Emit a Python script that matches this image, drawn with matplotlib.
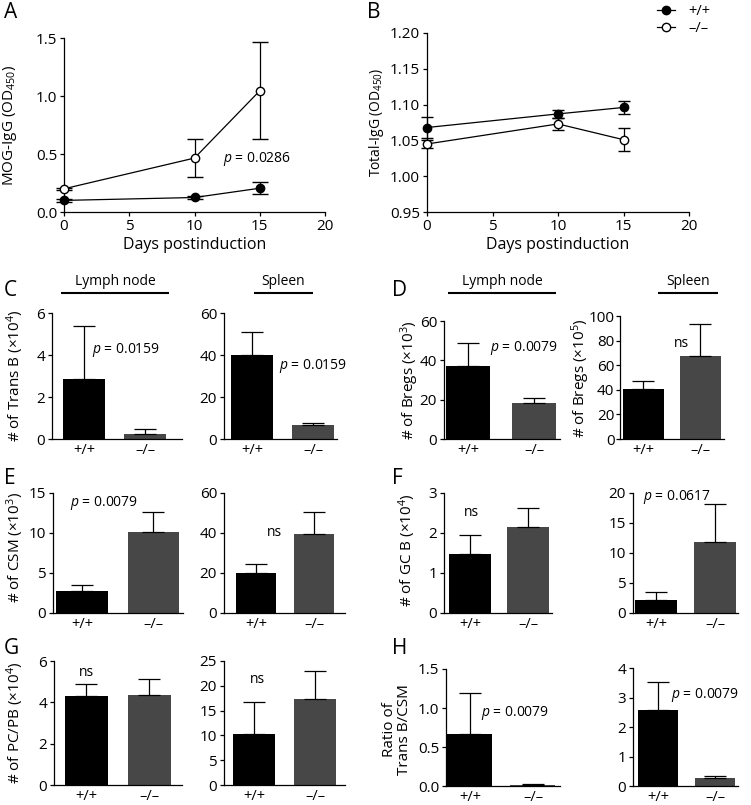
import matplotlib

matplotlib.use("Agg")
import matplotlib.pyplot as plt
from matplotlib.lines import Line2D

plt.rcParams["font.family"] = ["Open Sans", "DejaVu Sans"]
plt.rcParams["mathtext.fontset"] = "custom"
plt.rcParams["mathtext.rm"] = "Open Sans"
plt.rcParams["mathtext.it"] = "Open Sans:italic"
plt.rcParams["mathtext.bf"] = "Open Sans:bold"
plt.rcParams["axes.linewidth"] = 0.9

# ---- data ----
days = [0, 10, 15]
mog_wt = [0.10, 0.125, 0.205]
mog_wt_err = [0.01, 0.01, 0.05]
mog_ko = [0.20, 0.465, 1.045]
mog_ko_err = [0.01, 0.165, 0.42]
tot_wt = [1.068, 1.087, 1.096]
tot_wt_err = [0.014, 0.006, 0.009]
tot_ko = [1.045, 1.073, 1.051]
tot_ko_err = [0.006, 0.008, 0.016]

genotypes = ["+/+", "\u2013/\u2013"]
trans_ln, trans_ln_err = [2.87, 0.25], [2.5, 0.23]
trans_sp, trans_sp_err = [40.2, 6.5], [10.6, 1.1]
bregs_ln, bregs_ln_err = [37.1, 18.2], [11.5, 2.9]
bregs_sp, bregs_sp_err = [40.5, 67.3], [6.5, 26.5]
csm_ln, csm_ln_err = [2.7, 10.1], [0.8, 2.5]
csm_sp, csm_sp_err = [20.2, 39.7], [4.3, 10.8]
gcb_ln, gcb_ln_err = [1.47, 2.15], [0.49, 0.48]
gcb_sp, gcb_sp_err = [2.15, 11.8], [1.35, 6.3]
pc_ln, pc_ln_err = [4.3, 4.35], [0.58, 0.78]
pc_sp, pc_sp_err = [10.2, 17.3], [6.6, 5.7]
ratio_ln, ratio_ln_err = [0.665, 0.01], [0.525, 0.02]
ratio_sp, ratio_sp_err = [2.57, 0.28], [0.95, 0.07]

BLACK = "#000000"
GRAY = "#474747"
W, H = 751, 805
TICK_FS = 11


def box(l, t, r, b):
    return [l / W, 1 - b / H, (r - l) / W, (b - t) / H]


def style(ax, fs=TICK_FS):
    ax.spines["top"].set_visible(False)
    ax.spines["right"].set_visible(False)
    ax.tick_params(axis="both", labelsize=fs, length=3, width=0.9, pad=2, color="black")


def bar_panel(spec, vals, errs, yticks, fmt="{:g}", note=None):
    left, top, right, bottom, c0, c1, wpx = spec
    ax = fig.add_axes(box(left, top, right, bottom))
    s = c1 - c0
    ax.set_xlim(-(c0 - left) / s, 1 + (right - c1) / s)
    ax.bar([0, 1], vals, width=wpx / s, color=[BLACK, GRAY],
           yerr=[[0, 0], errs],
           error_kw=dict(capsize=8, elinewidth=0.9, capthick=0.9, ecolor="black"))
    ax.set_ylim(0, yticks[-1])
    ax.set_yticks(yticks)
    ax.set_yticklabels([fmt.format(t) for t in yticks])
    ax.set_xticks([0, 1])
    ax.set_xticklabels(genotypes)
    style(ax)
    ax.tick_params(axis="x", length=0, pad=3, labelsize=10.5)
    if note:
        x, y, txt, ha = note
        ax.text(x, y, txt, ha=ha, va="center", fontsize=10)
    return ax


fig = plt.figure(figsize=(7.51, 8.05), dpi=100)

# ---- A: MOG-IgG ----
ax_a = fig.add_axes(box(64, 38, 325, 212))
ax_a.errorbar(days, mog_wt, yerr=mog_wt_err, color="black", marker="o", ms=6,
              mfc="black", mec="black", lw=0.9, capsize=5.5, elinewidth=0.9,
              clip_on=False, zorder=3)
ax_a.errorbar(days, mog_ko, yerr=mog_ko_err, color="black", marker="o", ms=6,
              mfc="white", mec="black", lw=0.9, capsize=5.5, elinewidth=0.9,
              clip_on=False, zorder=3)
ax_a.set_xlim(0, 20)
ax_a.set_ylim(0, 1.5)
ax_a.set_xticks([0, 5, 10, 15, 20])
ax_a.set_yticks([0, 0.5, 1.0, 1.5])
ax_a.set_yticklabels(["0.0", "0.5", "1.0", "1.5"])
style(ax_a)
ax_a.text(12.2, 0.457, r"$p$ = 0.0286", ha="left", va="center", fontsize=10)

# ---- B: Total-IgG ----
ax_b = fig.add_axes(box(427, 33, 689, 212))
ax_b.errorbar(days, tot_wt, yerr=tot_wt_err, color="black", marker="o", ms=6,
              mfc="black", mec="black", lw=0.9, capsize=4, elinewidth=0.9,
              clip_on=False, zorder=3)
ax_b.errorbar(days, tot_ko, yerr=tot_ko_err, color="black", marker="o", ms=6,
              mfc="white", mec="black", lw=0.9, capsize=4, elinewidth=0.9,
              clip_on=False, zorder=3)
ax_b.set_xlim(0, 20)
ax_b.set_ylim(0.95, 1.20)
ax_b.set_xticks([0, 5, 10, 15, 20])
ax_b.set_yticks([0.95, 1.00, 1.05, 1.10, 1.15, 1.20])
ax_b.set_yticklabels(["0.95", "1.00", "1.05", "1.10", "1.15", "1.20"])
style(ax_b)
leg_handles = [Line2D([], [], color="black", lw=0.9, marker="o", ms=6, mfc="black", mec="black"),
               Line2D([], [], color="black", lw=0.9, marker="o", ms=6, mfc="white", mec="black")]
ax_b.legend(leg_handles, genotypes, loc="upper left", bbox_to_anchor=(650 / W, 1 - (-3) / H),
            bbox_transform=fig.transFigure, frameon=False, fontsize=10.5,
            handlelength=1.2, handletextpad=0.9, labelspacing=0.1, borderpad=0)

# ---- bar panels ----
bar_panel((52, 313, 182, 439, 84, 145, 42), trans_ln, trans_ln_err, [0, 2, 4, 6],
          note=(0.13, 4.24, r"$p$ = 0.0159", "left"))
bar_panel((224, 313, 337, 439, 252, 313, 42), trans_sp, trans_sp_err, [0, 20, 40, 60],
          note=(0.44, 34.8, r"$p$ = 0.0159", "left"))
bar_panel((444, 321, 560, 439, 468, 534, 44), bregs_ln, bregs_ln_err, [0, 20, 40, 60],
          note=(0.33, 46.3, r"$p$ = 0.0079", "left"))
ax_d2 = bar_panel((620, 316, 724, 439, 643, 700, 41), bregs_sp, bregs_sp_err,
                  [0, 20, 40, 60, 80, 100], note=(0.67, 78, "ns", "center"))
ax_d2.tick_params(axis="y", pad=1)

bar_panel((53, 493, 183, 613, 82, 153, 51), csm_ln, csm_ln_err, [0, 5, 10, 15],
          note=(-0.17, 13.75, r"$p$ = 0.0079", "left"))
bar_panel((224, 493, 345, 613, 256, 314, 40), csm_sp, csm_sp_err, [0, 20, 40, 60],
          note=(0.31, 40.5, "ns", "center"))
bar_panel((444, 493, 552, 613, 470, 528, 42), gcb_ln, gcb_ln_err, [0, 1, 2, 3],
          note=(0.03, 2.5, "ns", "center"))
bar_panel((633, 493, 738, 613, 656, 715, 42), gcb_sp, gcb_sp_err, [0, 5, 10, 15, 20],
          note=(-0.22, 19.3, r"$p$ = 0.0617", "left"))

bar_panel((54, 661, 182, 785, 86, 149, 43), pc_ln, pc_ln_err, [0, 2, 4, 6],
          note=(0.0, 5.42, "ns", "center"))
bar_panel((224, 661, 345, 785, 254, 315, 42), pc_sp, pc_sp_err, [0, 5, 10, 15, 20, 25],
          note=(0.05, 21.2, "ns", "center"))
bar_panel((446, 669, 560, 786, 470, 533, 45), ratio_ln, ratio_ln_err, [0, 0.5, 1.0, 1.5],
          fmt="{:.1f}", note=(0.17, 0.936, r"$p$ = 0.0079", "left"))
bar_panel((633, 668, 738, 786, 658, 715, 40), ratio_sp, ratio_sp_err, [0, 1, 2, 3, 4],
          note=(0.23, 3.08, r"$p$ = 0.0079", "left"))

# ---- overlay: labels, headers, panel letters (pixel coords) ----
ov = fig.add_axes([0, 0, 1, 1])
ov.set_xlim(0, W)
ov.set_ylim(H, 0)
ov.axis("off")

for letter, x, y in [("A", 4, 12), ("B", 367, 12), ("C", 4, 290), ("D", 392, 290),
                     ("E", 4, 478), ("F", 392, 478), ("G", 4, 648), ("H", 392, 648)]:
    ov.text(x, y, letter, fontsize=15, ha="left", va="center")

ylabels = [
    (10, 125, "MOG-IgG (OD$_{450}$)", 11),
    (377, 122, "Total-IgG (OD$_{450}$)", 10),
    (15, 376, "# of Trans B (\u00d710$^{4}$)", 11),
    (410, 380, "# of Bregs (\u00d710$^{3}$)", 11),
    (581, 378, "# of Bregs (\u00d710$^{5}$)", 11),
    (15, 548, "# of CSM (\u00d710$^{3}$)", 11),
    (407, 550, "# of GC B (\u00d710$^{4}$)", 11),
    (15, 723, "# of PC/PB (\u00d710$^{4}$)", 11),
    (397, 730, "Ratio of\nTrans B/CSM", 11),
]
for x, y, txt, fs in ylabels:
    ov.text(x, y, txt, rotation=90, ha="center", va="center", fontsize=fs,
            multialignment="center", linespacing=1.0)

ov.text(195, 245, "Days postinduction", ha="center", va="center", fontsize=11.5)
ov.text(558, 245, "Days postinduction", ha="center", va="center", fontsize=11.5)

for x0, x1, name in [(61, 169, "Lymph node"), (254, 313, "Spleen"),
                     (448, 556, "Lymph node"), (658, 718, "Spleen")]:
    ov.plot([x0, x1], [293.5, 293.5], color="black", lw=1.5, solid_capstyle="butt")
    ov.text((x0 + x1) / 2, 281, name, ha="center", va="center", fontsize=10)

fig.savefig("out.png", dpi=100)
